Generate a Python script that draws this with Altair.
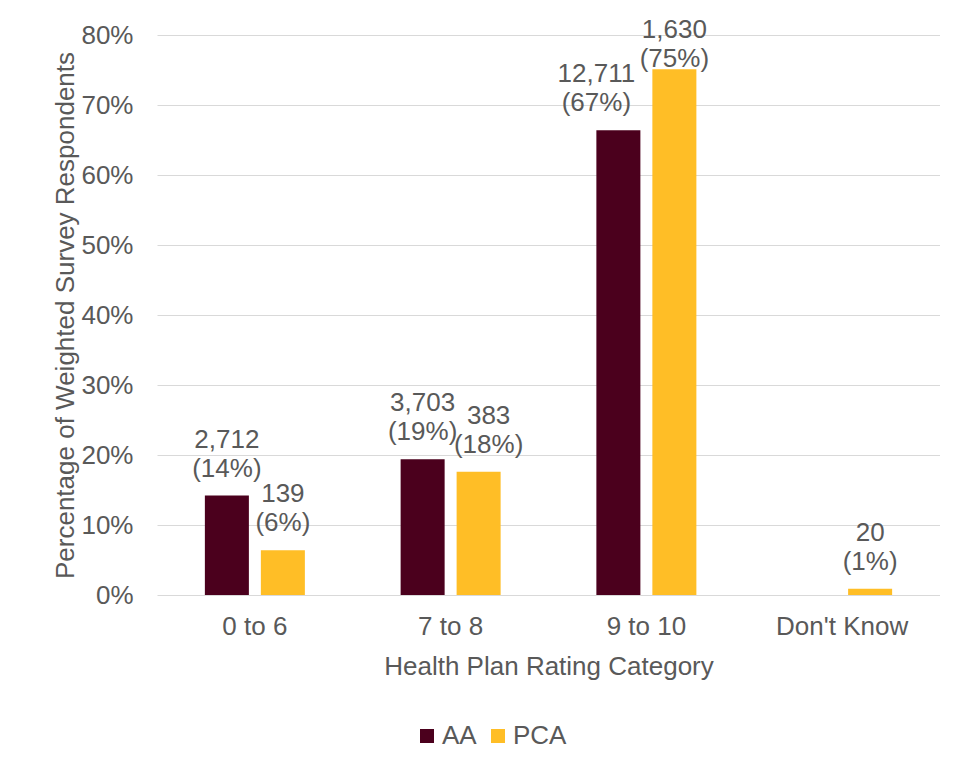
import altair as alt
import pandas as pd

categories = ["0 to 6", "7 to 8", "9 to 10", "Don't Know"]
series = ["AA", "PCA"]
aa_pct = [14.2, 19.4, 66.4, 0.0]
pca_pct = [6.4, 17.6, 75.1, 0.9]
aa_counts = [2712, 3703, 12711, None]
pca_counts = [139, 383, 1630, 20]
aa_pct_labels = [14, 19, 67, None]
pca_pct_labels = [6, 18, 75, 1]
y_ticks = [0, 10, 20, 30, 40, 50, 60, 70, 80]
colors = ["#4B001D", "#FFBE26"]

rows = []
for s, vals, counts, plabs in [("AA", aa_pct, aa_counts, aa_pct_labels),
                                ("PCA", pca_pct, pca_counts, pca_pct_labels)]:
    for c, v, n, p in zip(categories, vals, counts, plabs):
        label = f"{n:,}\n({p}%)" if n is not None else ""
        rows.append({"category": c, "series": s, "value": v / 100, "label": label})
df = pd.DataFrame(rows)

FONT = "Liberation Sans"
GREY = "#595959"
FS = 26

x = alt.X("category:N", sort=categories,
          scale=alt.Scale(paddingInner=0, paddingOuter=0),
          axis=alt.Axis(title="Health Plan Rating Category", labelAngle=0,
                        domain=False, ticks=False, tickSize=0, labelPadding=18,
                        labelFontSize=FS, labelColor=GREY, titleFontSize=FS,
                        titleColor=GREY, titleFontWeight="normal",
                        titleBaseline="top", titleY=58))
xo = alt.XOffset("series:N", sort=series,
                 scale=alt.Scale(paddingInner=0.214, paddingOuter=0.855))
y = alt.Y("value:Q",
          scale=alt.Scale(domain=[0, 0.8], nice=False),
          axis=alt.Axis(title="Percentage of Weighted Survey Respondents",
                        values=[t / 100 for t in y_ticks], format=".0%",
                        grid=True, gridColor="#D9D9D9", gridWidth=1,
                        domain=False, ticks=False, tickSize=0, labelPadding=24,
                        labelFontSize=FS, labelColor=GREY, titleFontSize=FS,
                        titleColor=GREY, titleFontWeight="normal",
                        titleAngle=270, titleAlign="center", titleBaseline="middle",
                        titleX=-92, titleY=280))
color = alt.Color("series:N", sort=series,
                  scale=alt.Scale(domain=series, range=colors),
                  legend=alt.Legend(title=None, orient="none", legendX=257, legendY=688,
                                    direction="horizontal", symbolType="square",
                                    symbolSize=196, symbolStrokeWidth=0,
                                    labelFontSize=FS, labelColor=GREY, labelFont=FONT,
                                    columnPadding=8, labelOffset=2, padding=0))

bars = alt.Chart(df).mark_bar().encode(x=x, xOffset=xo, y=y, color=color)

label_y = alt.Y("label_pos:Q", scale=alt.Scale(domain=[0, 0.8], nice=False))
text_style = dict(baseline="bottom", align="center", dy=-43, fontSize=FS, font=FONT,
                  color=GREY, lineBreak="\n", lineHeight=29)
# labels are kept inside the chart area and nudged apart where they crowd,
# as the source chart does
base_text = alt.Chart(df).transform_filter("datum.label != ''").transform_calculate(
    label_pos="min(datum.value, 0.727)",
    nudge="datum.category == '9 to 10' && datum.series == 'AA' ? 'left' : "
          "(datum.category == '7 to 8' && datum.series == 'PCA' ? 'right' : 'none')"
)
layers = [bars]
for key, dx in [("none", 0), ("left", -22), ("right", 10)]:
    layers.append(
        base_text.transform_filter(f"datum.nudge == '{key}'")
        .mark_text(**{**text_style, "dx": dx})
        .encode(x=x, xOffset=xo, y=label_y, text="label:N")
    )

chart = alt.layer(*layers).properties(
    width=783, height=560,
    autosize=alt.AutoSizeParams(type="none"),
    padding={"left": 149, "top": 27, "right": 0, "bottom": 160},
    background="white",
).configure(font=FONT).configure_view(stroke=None)

chart.save("out.html", embed_options={"renderer": "svg", "actions": False})
